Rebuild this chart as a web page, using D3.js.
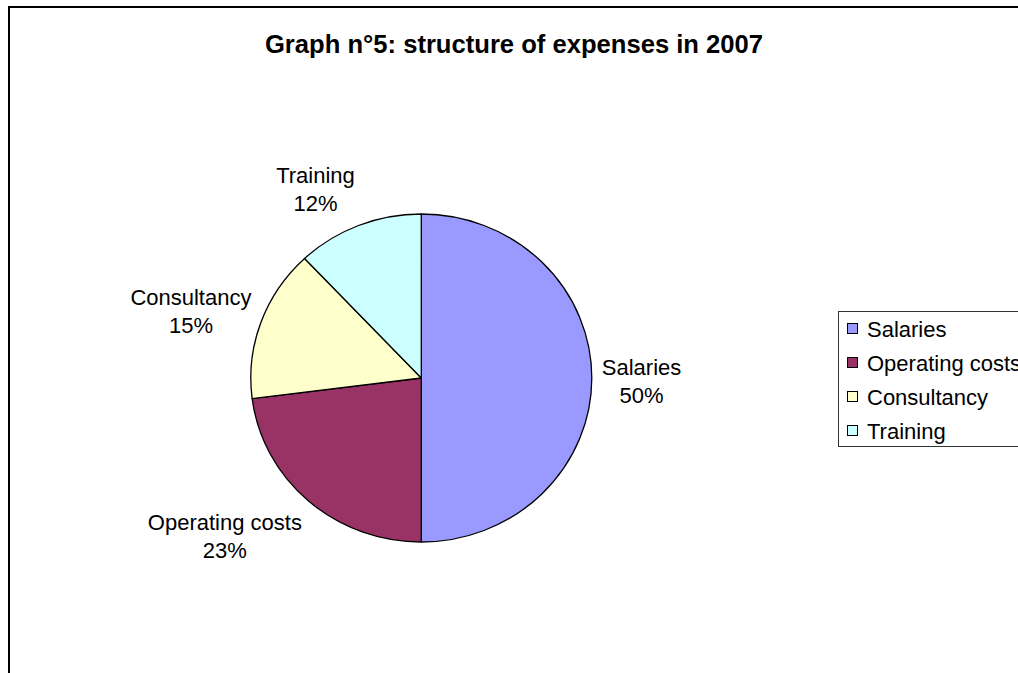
<!DOCTYPE html>
<html>
<head>
<meta charset="utf-8">
<script src="https://cdn.jsdelivr.net/npm/d3@7"></script>
<style>
  html, body { margin: 0; padding: 0; background: #fff; overflow: hidden; }
  svg { display: block; font-family: "Liberation Sans", Arial, sans-serif; }
</style>
</head>
<body>
<svg id="chart" width="1018" height="673"></svg>
<script>
// Expense categories and their share (%) of total 2007 expenses
const categories = ["Salaries", "Operating costs", "Consultancy", "Training"];
const shares = [50, 23, 15, 12];
const colors = ["#9999FF", "#993366", "#FFFFCC", "#CCFFFF"];
const title = "Graph n°5: structure of expenses in 2007";

const W = 1018, H = 673;
const svg = d3.select("#chart");

// chart area frame (runs off the right and bottom edges)
svg.append("rect")
  .attr("x", 9).attr("y", 7)
  .attr("width", W + 20).attr("height", H + 20)
  .attr("fill", "#fff")
  .attr("stroke", "#000").attr("stroke-width", 2);

svg.append("text")
  .attr("x", 514).attr("y", 53)
  .attr("text-anchor", "middle")
  .attr("font-size", 25.6).attr("font-weight", "bold")
  .text(title);

// pie geometry (slightly flattened vertically)
const cx = 421.3, cy = 378, rx = 170.5, ry = 164;
const data = categories.map((c, i) => ({ name: c, value: shares[i], color: colors[i] }));
const pie = d3.pie().value(d => d.value).sort(null);
const arcs = pie(data);
const arc = d3.arc().innerRadius(0).outerRadius(rx);

const pieG = svg.append("g")
  .attr("transform", `translate(${cx},${cy}) scale(1,${ry / rx})`);
pieG.selectAll("path")
  .data(arcs)
  .join("path")
  .attr("d", arc)
  .attr("fill", d => d.data.color)
  .attr("stroke", "#000")
  .attr("stroke-width", 1.3)
  .attr("stroke-linejoin", "round")
  .attr("vector-effect", "non-scaling-stroke");

// data labels: name and percentage outside each slice
const fmt = d3.format(".0%");
const gap = 10;
const labelG = svg.append("g").attr("font-size", 22).attr("fill", "#000");
arcs.forEach(a => {
  const mid = (a.startAngle + a.endAngle) / 2;
  const dx = Math.sin(mid), dy = -Math.cos(mid);
  const px = cx + dx * (rx + gap), py = cy + dy * (ry + gap);
  const g = labelG.append("g");
  const t1 = g.append("text").attr("text-anchor", "middle").text(a.data.name);
  const t2 = g.append("text").attr("text-anchor", "middle").text(fmt(a.data.value / 100));
  const w = Math.max(t1.node().getComputedTextLength(), t2.node().getComputedTextLength());
  const lx = dx >= 0 ? px + w / 2 : px - w / 2;
  const ly = py + dy * 32 + 3;
  t1.attr("x", lx).attr("y", ly - 6);
  t2.attr("x", lx).attr("y", ly + 22);
});

// legend
const legend = svg.append("g");
legend.append("rect")
  .attr("x", 838.5).attr("y", 311.5)
  .attr("width", 200).attr("height", 135)
  .attr("fill", "#fff")
  .attr("stroke", "#333").attr("stroke-width", 1);
const rowY = d3.scalePoint().domain(categories).range([329, 431]);
const items = legend.selectAll("g.item")
  .data(data)
  .join("g")
  .attr("class", "item")
  .attr("transform", d => `translate(0,${rowY(d.name)})`);
items.append("rect")
  .attr("x", 847.5).attr("y", -5.5)
  .attr("width", 10).attr("height", 10)
  .attr("fill", d => d.color)
  .attr("stroke", "#000").attr("stroke-width", 1);
items.append("text")
  .attr("x", 867).attr("y", 8)
  .attr("font-size", 22)
  .text(d => d.name);
</script>
</body>
</html>
